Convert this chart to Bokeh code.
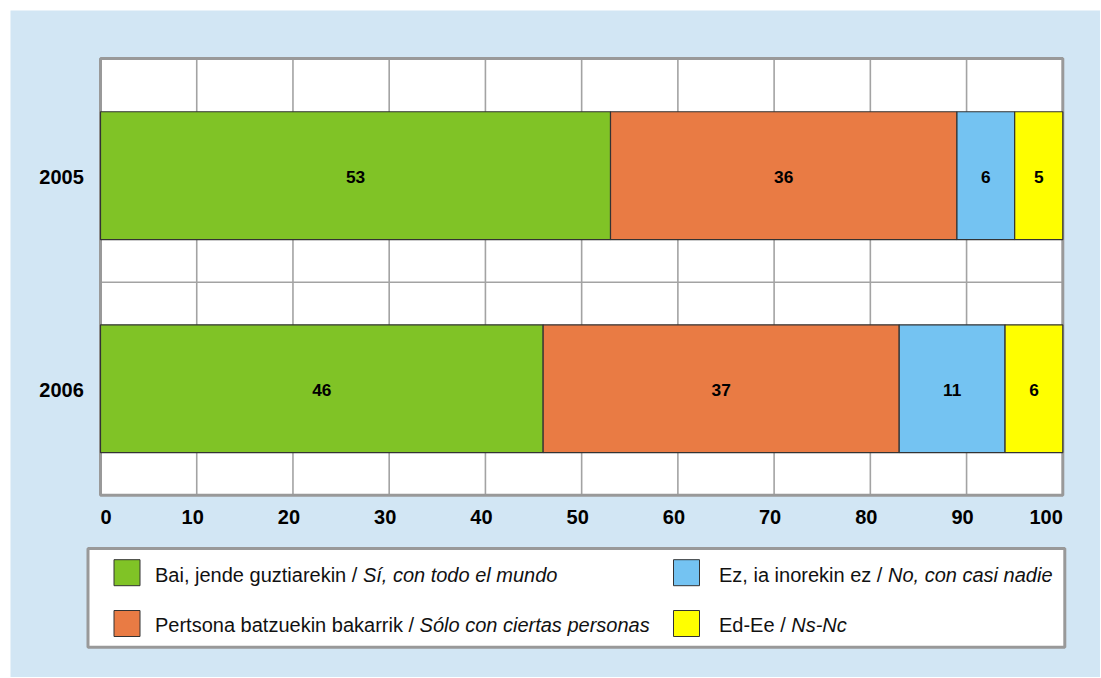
import numpy as np
from bokeh.plotting import figure
from bokeh.models import Range1d, ColumnDataSource
from bokeh.core.properties import value
from bokeh.embed import file_html
from bokeh.resources import INLINE

# ---------------- data ----------------
years = ["2005", "2006"]
series_eu = ["Bai, jende guztiarekin", "Pertsona batzuekin bakarrik",
             "Ez, ia inorekin ez", "Ed-Ee"]
series_es = ["Sí, con todo el mundo", "Sólo con ciertas personas",
             "No, con casi nadie", "Ns-Nc"]
colors = ["#80C326", "#E97B44", "#74C3F2", "#FFFF00"]
bai = [53, 46]
pertsona = [36, 37]
ez = [6, 11]
eded = [5, 6]
x_ticks = [0, 10, 20, 30, 40, 50, 60, 70, 80, 90, 100]

# ---------------- layout / style ----------------
FONT = "Liberation Sans"
BG = "#D2E6F4"
GRID = "#A3A3A3"
FRAME = "#999999"
W, H = 1100, 677
FR_L, FR_T, FR_R, FR_B = 10, 10, W, H          # drawing frame (page px)
PLOT_L, PLOT_R, PLOT_T, PLOT_B = 100, 1062.3, 58, 494.7
Y_TOP = 2.05                                   # plot area height in category units

n = len(years)
sx = (PLOT_R - PLOT_L) / 100.0
sy = (PLOT_B - PLOT_T) / Y_TOP

values = np.array([bai, pertsona, ez, eded], dtype=float)
right = np.cumsum(values, axis=0)
left = right - values
ypos = [n - 0.5 - i for i in range(n)]

p = figure(width=W, height=H,
           x_range=Range1d((FR_L - PLOT_L) / sx, (FR_R - PLOT_L) / sx),
           y_range=Range1d(-(FR_B - PLOT_B) / sy, (PLOT_B - FR_T) / sy),
           x_axis_location=None, y_axis_location=None, title=None,
           output_backend="svg", toolbar_location=None,
           min_border_left=FR_L, min_border_top=FR_T,
           min_border_right=0, min_border_bottom=0,
           background_fill_color=BG, border_fill_color="white",
           outline_line_color=None)
p.grid.visible = False
p.extra_x_ranges = {"px": Range1d(FR_L, FR_R)}
p.extra_y_ranges = {"px": Range1d(FR_B, FR_T)}

# plot area
p.quad(left=0, right=100, bottom=0, top=Y_TOP, fill_color="white",
       line_color=None)
gx = x_ticks[1:-1]
p.segment(x0=gx, y0=[0] * len(gx), x1=gx, y1=[Y_TOP] * len(gx),
          line_color=GRID, line_width=1.6)
gy = [float(i) for i in range(1, n)]
p.segment(x0=[0] * len(gy), y0=gy, x1=[100] * len(gy), y1=gy,
          line_color=GRID, line_width=1.6)
p.quad(left=0, right=100, bottom=0, top=Y_TOP, fill_color=None,
       line_color=FRAME, line_width=3)

# bars
for k in range(len(colors)):
    p.hbar(y=ypos, left=left[k], right=right[k], height=0.6,
           fill_color=colors[k], line_color="#333333", line_width=1.2)

lab = ColumnDataSource(dict(
    x=((left + right) / 2).ravel(),
    y=np.tile(ypos, len(colors)),
    t=[str(int(v)) for v in values.ravel()],
))
p.text(x="x", y="y", text="t", source=lab, text_font=value(FONT),
       text_font_style="bold", text_font_size="17.3px", text_align="center",
       text_baseline="middle", text_color="black", y_offset=1)

# category (y) labels
p.text(x=[83.3] * n, y=ypos, text=years, x_range_name="px",
       text_font=value(FONT), text_font_style="bold", text_font_size="20px",
       text_align="right", text_baseline="middle", text_color="black",
       y_offset=1.5)

# value (x) tick labels
aligns = ["left"] + ["center"] * (len(x_ticks) - 2) + ["right"]
xoffs = [0] + [-4] * (len(x_ticks) - 2) + [0]
p.text(x=x_ticks, y=[516.5] * len(x_ticks), text=[str(t) for t in x_ticks],
       y_range_name="px", x_offset=xoffs, text_align=aligns,
       text_font=value(FONT), text_font_style="bold", text_font_size="20px",
       text_baseline="middle", text_color="black")

# ---------------- legend ----------------
ARIAL = {' ': 278, ',': 278, '/': 278, '-': 333, 'a': 556, 'b': 556, 'c': 500,
         'd': 556, 'e': 556, 'f': 278, 'g': 556, 'h': 556, 'i': 222, 'j': 222,
         'k': 500, 'l': 222, 'm': 833, 'n': 556, 'o': 556, 'p': 556, 'q': 556,
         'r': 333, 's': 500, 't': 278, 'u': 556, 'v': 500, 'w': 722, 'x': 500,
         'y': 500, 'z': 500, 'B': 667, 'E': 667, 'P': 667, 'N': 722, 'S': 667}
FS = 20.0


def text_w(s):
    return sum(ARIAL.get(c, 556) for c in s) * FS / 1000.0


p.quad(left=87.5, right=1064.3, top=548, bottom=646.7, fill_color="white",
       line_color=FRAME, line_width=3, x_range_name="px", y_range_name="px")

col_sq = [126.5, 686.0]
col_tx = [154.5, 718.5]
row_sq = [572.2, 623.0]
row_tx = [574.0, 624.5]
sq_x, sq_y, tx_x, it_x, ty, normal = [], [], [], [], [], []
for i in range(len(colors)):
    c, r = i // 2, i % 2
    sq_x.append(col_sq[c])
    sq_y.append(row_sq[r])
    nt = series_eu[i] + " / "
    normal.append(nt)
    tx_x.append(col_tx[c])
    it_x.append(col_tx[c] + text_w(nt))
    ty.append(row_tx[r])

p.rect(x=sq_x, y=sq_y, width=26, height=26, fill_color=colors,
       line_color="#333333", line_width=1,
       x_range_name="px", y_range_name="px")
p.text(x=tx_x, y=ty, text=normal, text_font=value(FONT),
       text_font_size=f"{FS}px", text_align="left", text_baseline="middle",
       text_color="#111111", x_range_name="px", y_range_name="px")
p.text(x=it_x, y=ty, text=series_es, text_font=value(FONT),
       text_font_style="italic", text_font_size=f"{FS}px", text_align="left",
       text_baseline="middle", text_color="#111111",
       x_range_name="px", y_range_name="px")

open("out.html", "w").write(file_html(p, INLINE))
